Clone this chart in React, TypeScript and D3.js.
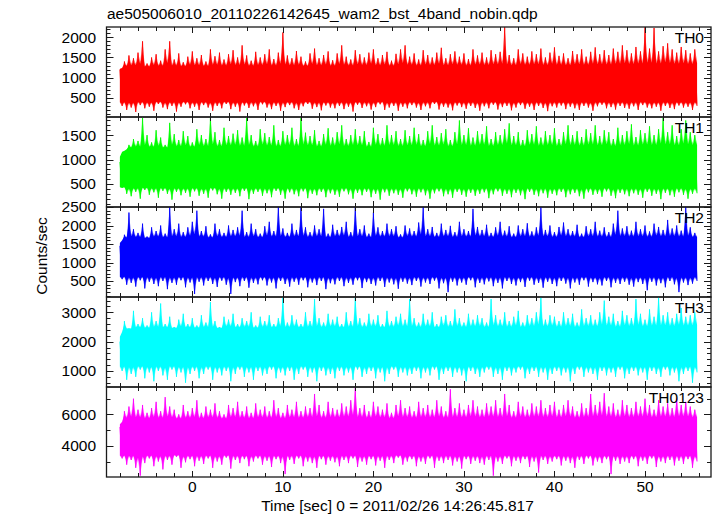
import React from 'react';
import * as d3 from 'd3';

const title = 'ae505006010_20110226142645_wam2_bst_4band_nobin.qdp';
const xLabel = 'Time [sec] 0 = 2011/02/26 14:26:45.817';
const yLabel = 'Counts/sec';
const bandNames = ['TH0', 'TH1', 'TH2', 'TH3', 'TH0123'];
const bandColors = ['#ff0000', '#00ff00', '#0000ff', '#00ffff', '#ff00ff'];
const xDomain = [-9.48, 57.29];
const xMajorTicks = [0, 10, 20, 30, 40, 50];
const xMinorStep = 2;
const sampleStart = -8;
const sampleStep = 0.5;

// upper / lower excursions of each light curve, one pair per 0.5 s
const th0Hi = [
  1200,1400,1550,1480,1620,1900,1350,1500,1580,1420,1700,1900,1450,1600,1380,1520,
  1650,1480,1560,1400,1700,1530,1620,1450,1580,1680,1500,1800,1550,1420,1640,1500,
  1580,1700,1460,1620,2120,1550,1480,1660,1520,1400,1600,1720,1480,1560,1650,1430,
  1600,1800,1520,1450,1680,1580,1500,1620,1700,1480,1560,1640,1420,1590,1700,1800,
  1520,1600,1450,1680,1560,1500,1620,1740,1480,1580,1650,1520,1600,1460,1700,1550,
  1620,1500,1680,1580,1640,2250,1560,1480,1700,1600,1520,1650,1580,1720,1500,1620,
  1750,1540,1600,1480,1660,1580,1700,1520,1640,1750,1580,1680,1560,1720,1640,1800,
  1680,1600,1760,1650,2250,1720,2230,1650,1780,1850,1700,1620,1760,1680,1600,1700,
];
const th0Lo = [
  300,200,260,150,320,240,280,180,350,260,220,300,160,280,340,240,
  280,200,320,260,180,300,240,350,220,280,160,310,250,290,200,340,
  260,220,300,180,270,320,240,200,290,350,230,270,190,310,260,240,
  300,220,280,160,330,250,290,210,270,340,200,260,300,180,280,240,
  320,260,200,290,240,350,210,280,260,190,310,270,230,300,250,180,
  290,240,330,210,270,300,190,260,320,230,280,200,300,250,170,290,
  260,310,220,280,240,200,300,260,180,290,330,240,270,210,300,250,
  230,290,200,320,260,240,280,180,300,250,220,310,260,280,200,300,
];
const th1Hi = [
  950,1150,1300,1420,1380,1850,1500,1350,1600,1450,1300,1750,1520,1400,1580,1480,
  1350,1620,1500,1420,1850,1560,1400,1650,1480,1530,1600,1450,1850,1500,1380,1620,
  1540,1460,1700,1400,1580,1500,1650,1420,1850,1550,1480,1600,1380,1520,1640,1450,
  1560,1700,1420,1500,1620,1480,1580,1360,1650,1520,1440,1700,1500,1580,1420,1600,
  1480,1650,1520,1400,1580,1700,1460,1540,1620,1400,1560,1800,1500,1640,1450,1580,
  1520,1680,1420,1560,1500,1620,1740,1480,1560,1400,1600,1520,1680,1450,1580,1500,
  1640,1420,1560,1700,1500,1580,1460,1620,1540,1700,1480,1600,1560,1420,1650,1500,
  1580,1720,1460,1600,1540,1680,1500,1620,1850,1560,1700,1480,1620,1800,1560,1500,
];
const th1Lo = [
  420,300,250,340,200,380,280,330,220,360,300,180,340,270,320,240,
  350,260,300,220,370,290,200,340,280,320,250,360,190,300,340,260,
  310,230,360,280,200,330,290,250,350,210,300,270,340,230,310,280,
  240,350,290,200,320,270,340,230,300,180,330,260,310,280,220,350,
  290,240,330,270,200,310,350,250,290,220,340,280,240,320,260,300,
  330,210,290,350,260,300,230,320,270,190,340,280,250,310,220,300,
  270,340,230,290,320,250,200,330,280,300,240,350,260,210,320,290,
  250,310,280,220,340,260,300,190,320,270,240,330,280,200,300,310,
];
const th2Hi = [
  1450,1750,2350,1900,1800,2050,1700,1950,1850,2000,1780,2500,1900,2050,1820,1950,
  2100,2400,1850,1980,1760,2050,1900,1800,2000,1880,1950,2400,1820,2050,1900,1780,
  1980,2100,1850,2500,1920,1800,2050,1880,2500,1950,1820,2000,1900,2450,1780,2020,
  1880,1960,2100,1820,2500,1900,2000,1780,2350,1950,1850,2050,1900,1980,1760,2000,
  1920,1850,2080,2500,1900,1960,1800,2050,1880,1990,1820,2100,1900,1850,2450,1960,
  1880,2020,1800,1950,2100,1860,1980,1780,2000,1900,2060,1840,1950,2500,1880,2000,
  1820,1960,2080,1900,1850,2020,1780,1980,1900,2100,1860,1950,1820,2050,2400,1920,
  1980,1860,2100,1900,2000,1840,2050,1960,1880,2150,1920,2000,1860,2500,1950,1800,
];
const th2Lo = [
  550,400,450,350,520,300,480,420,360,500,280,450,400,520,330,460,
  150,480,380,500,420,340,510,400,150,470,360,500,320,450,410,520,
  380,460,300,500,420,350,480,400,520,330,460,390,500,280,440,410,
  500,360,450,400,520,310,470,420,380,500,340,460,410,290,480,430,
  390,500,350,460,420,510,300,440,200,480,380,460,400,520,330,450,
  410,490,360,450,300,500,420,380,470,340,510,400,450,320,480,420,
  360,500,430,300,460,400,520,350,470,410,380,500,330,450,420,480,
  400,350,470,420,250,480,380,440,330,500,410,200,460,390,430,500,
];
const th3Hi = [
  2000,2700,2450,3050,2600,2800,2550,3000,2700,3300,2600,2850,2500,2750,2950,2600,
  2800,2550,2900,2650,3350,2700,2500,2850,2750,2950,2600,2800,2700,3000,2550,2850,
  2700,2900,2600,2800,3500,2650,2900,2750,2600,3000,2700,3450,2800,2650,2950,2750,
  2850,2600,3000,2700,3500,2800,2650,2950,2750,2900,2600,3050,2700,2850,2950,2750,
  3450,2800,2650,2950,2750,3000,2600,2850,2900,2700,3100,2800,2650,2950,2750,2900,
  2800,2650,3450,2900,2750,3000,2700,2850,3050,2650,2900,2800,3000,3500,2750,2900,
  2850,2700,3000,2800,2950,2650,3100,2800,2900,2750,3000,3400,2850,2950,2700,3050,
  2900,2800,3450,2950,2750,3100,2850,3500,2900,3000,2800,2950,3150,2850,2900,3000,
];
const th3Lo = [
  1000,700,900,800,1050,750,950,650,1000,850,700,1050,800,950,600,900,
  1000,750,900,1050,700,950,850,1000,650,900,1050,800,950,700,1000,850,
  900,1050,750,950,850,1000,700,900,1050,800,950,650,1000,850,900,750,
  1000,850,950,700,1050,800,900,1000,750,950,650,900,1050,800,950,850,
  900,1000,750,950,850,1050,700,900,1000,800,950,850,650,1000,900,800,
  950,1050,800,900,700,1000,850,950,1050,750,900,1000,800,950,700,900,
  1000,850,950,650,900,1050,800,950,900,700,1000,850,950,800,1050,750,
  900,1000,850,950,700,1000,900,800,1050,850,950,650,900,1000,600,950,
];
const th0123Hi = [
  5200,6200,6500,7000,6300,6600,6100,6400,6800,6200,7100,6500,6300,6000,6600,6200,
  6400,6900,6100,6500,6300,6700,6200,6000,6600,6400,6800,6200,6500,6100,6700,6300,
  6500,6200,6900,6400,6100,6600,6300,6800,6200,6500,6400,7300,6600,6200,6800,6400,
  6300,6700,6500,6900,7700,6400,6600,6200,6800,6500,6300,6700,6100,6600,6900,6400,
  6500,6200,6800,6400,6600,6300,6900,6500,6200,7600,6400,6700,6300,6600,6900,6500,
  6300,6700,6500,6900,6400,7300,6600,6200,6800,6500,6300,6700,6500,6900,6400,6600,
  6800,6300,6600,6900,6500,6200,6700,6400,7300,6600,6800,7350,6500,6700,6300,6900,
  6600,6400,6800,6500,7000,6600,6300,6900,6500,6700,6400,7000,6600,6800,6500,6300,
];
const th0123Lo = [
  3200,2800,3100,2600,2100,2900,3200,2700,3000,2500,3100,2800,3300,2600,2950,3150,
  2700,3050,2850,3200,2600,3000,2800,3250,2550,3100,2900,3150,2700,3000,3200,2800,
  3050,2650,3150,2900,2200,3100,2850,3200,2700,3000,2900,2600,3150,2800,3050,2950,
  2700,3100,2900,3200,2650,3000,2800,3150,2750,3050,2600,3100,2900,3250,2800,3000,
  3150,2700,3000,2850,3200,2600,3050,2900,3100,2750,3000,2550,3150,2850,3050,2900,
  2800,3100,2100,3000,2850,3200,2700,3050,2900,3150,2650,3000,2300,3100,2850,3000,
  3150,2750,3050,2900,2600,3100,2850,3200,2750,3000,2900,3150,2200,3050,2850,3000,
  2900,3150,2700,3050,2850,3200,2650,3000,2900,3100,2750,3050,2850,3150,2600,3000,
];

// dense central band of each curve
const coreLow = [420, 440, 640, 1200, 3450];
const coreHigh = [1250, 1230, 1650, 2450, 5650];

const yDomains = [[25, 2255], [30, 1870], [68, 2500], [454, 3522], [2015, 7744]];
const yMajorSteps = [500, 500, 500, 1000, 2000];
const yMinorSteps = [100, 100, 100, 200, 1000];

const hiSeries = [th0Hi, th1Hi, th2Hi, th3Hi, th0123Hi];
const loSeries = [th0Lo, th1Lo, th2Lo, th3Lo, th0123Lo];

const W = 717;
const H = 516;
const left = 106.5;
const right = 711;
const top = 27;
const panelH = 90;
const font = "'Liberation Sans', Arial, Helvetica, sans-serif";
const axisColor = '#1a1a1a';

function stepTicks(d0: number, d1: number, step: number) {
  const out: number[] = [];
  const start = Math.ceil((d0 - 1e-6) / step) * step;
  for (let v = start; v <= d1 + 1e-6; v += step) out.push(v);
  return out;
}

type Pt = { t: number; a: number; b: number };

export default function App() {
  const x = d3.scaleLinear().domain(xDomain).range([left, right]);
  const xMinor = stepTicks(-8, 56, xMinorStep);

  const panels = bandNames.map((name, i) => {
    const y0 = top + i * panelH;
    const y1 = y0 + panelH;
    const y = d3.scaleLinear().domain(yDomains[i]).range([y1, y0]);
    const hi = hiSeries[i];
    const lo = loSeries[i];
    const cH = coreHigh[i];
    const cL = coreLow[i];
    const n = hi.length;
    const half = sampleStep / 2;

    // outer (fringe) and inner (solid) envelopes built from the sample extremes
    const build = (frac: number): Pt[] => {
      const pts: Pt[] = [];
      for (let k = 0; k < n; k++) {
        const t = sampleStart + k * sampleStep;
        const hk = hi[k];
        const hn = k + 1 < n ? hi[k + 1] : hi[k];
        const lp = k > 0 ? lo[k - 1] : lo[k];
        const lk = lo[k];
        const upTip = cH + frac * (hk - cH);
        const upValley = cH + frac * 0.4 * (Math.min(hk, hn) - cH);
        const loValley = cL - frac * 0.4 * (cL - Math.max(lp, lk));
        const loTip = cL - frac * (cL - lk);
        if (k === 0) pts.push({ t, a: cL, b: cH });
        pts.push({ t, a: loValley, b: upTip });
        pts.push({ t: t + half, a: loTip, b: upValley });
      }
      return pts;
    };
    const area = d3
      .area<Pt>()
      .x((d) => x(d.t))
      .y0((d) => y(d.a))
      .y1((d) => y(d.b));
    const outer = area(build(1)) || '';
    const inner = area(build(0.62)) || '';

    const zig: [number, number][] = [];
    hi.forEach((hv, k) => {
      const t = sampleStart + k * sampleStep;
      zig.push([t, hv]);
      zig.push([t + half, lo[k]]);
    });
    const line = d3
      .line<[number, number]>()
      .x((d) => x(d[0]))
      .y((d) => y(d[1]));

    const majors = stepTicks(yDomains[i][0], yDomains[i][1], yMajorSteps[i]);
    const minors = stepTicks(yDomains[i][0], yDomains[i][1], yMinorSteps[i]).filter(
      (v) => Math.abs(v / yMajorSteps[i] - Math.round(v / yMajorSteps[i])) > 1e-6
    );
    return { name, i, y0, y1, y, outer, inner, zig: line(zig) || '', majors, minors };
  });

  return (
    <div style={{ position: 'absolute', left: 0, top: 0 }}>
      <svg width={W} height={H} viewBox={`0 0 ${W} ${H}`} style={{ display: 'block', background: '#fff' }}>
        <defs>
          {panels.map((p) => (
            <clipPath id={`clip${p.i}`} key={p.i}>
              <rect x={left} y={p.y0} width={right - left} height={panelH} />
            </clipPath>
          ))}
        </defs>
        <text x={107} y={19} fontFamily={font} fontSize={15.5} fill="#000">
          {title}
        </text>
        {panels.map((p) => (
          <g key={p.name}>
            <g clipPath={`url(#clip${p.i})`}>
              <path d={p.outer} fill={bandColors[p.i]} fillOpacity={0.55} />
              <path d={p.inner} fill={bandColors[p.i]} />
              <path d={p.zig} fill="none" stroke={bandColors[p.i]} strokeWidth={1} strokeOpacity={0.85} />
            </g>
            {xMinor.map((t) => {
              const major = t % 10 === 0;
              const len = major ? 6 : 4;
              const xx = Math.round(x(t)) + 0.5;
              return (
                <g key={`xt${t}`} stroke={axisColor} strokeWidth={1}>
                  <line x1={xx} x2={xx} y1={p.y0} y2={p.y0 + len} />
                  <line x1={xx} x2={xx} y1={p.y1} y2={p.y1 - len} />
                </g>
              );
            })}
            {p.majors.map((v) => {
              const yy = Math.round(p.y(v)) + 0.5;
              return (
                <g key={`ym${v}`} stroke={axisColor} strokeWidth={1}>
                  <line x1={left} x2={left + 7} y1={yy} y2={yy} />
                  <line x1={right} x2={right - 7} y1={yy} y2={yy} />
                </g>
              );
            })}
            {p.minors.map((v) => {
              const yy = Math.round(p.y(v)) + 0.5;
              return (
                <g key={`yn${v}`} stroke={axisColor} strokeWidth={1}>
                  <line x1={left} x2={left + 4} y1={yy} y2={yy} />
                  <line x1={right} x2={right - 4} y1={yy} y2={yy} />
                </g>
              );
            })}
            {p.majors.map((v) => (
              <text
                key={`yl${v}`}
                x={96}
                y={p.y(v)}
                dy="0.35em"
                textAnchor="end"
                fontFamily={font}
                fontSize={15.5}
                fill="#000"
              >
                {v}
              </text>
            ))}
            <rect
              x={left}
              y={p.y0}
              width={right - left}
              height={panelH}
              fill="none"
              stroke={axisColor}
              strokeWidth={1.3}
            />
            <text x={704} y={p.y0 + 15.5} textAnchor="end" fontFamily={font} fontSize={15.5} fill="#000">
              {p.name}
            </text>
          </g>
        ))}
        {xMajorTicks.map((t) => (
          <text key={`xl${t}`} x={x(t)} y={492} textAnchor="middle" fontFamily={font} fontSize={15.5} fill="#000">
            {t}
          </text>
        ))}
        <text x={397.5} y={511} textAnchor="middle" fontFamily={font} fontSize={15.5} fill="#000">
          {xLabel}
        </text>
        <text
          transform="translate(47,256) rotate(-90)"
          textAnchor="middle"
          fontFamily={font}
          fontSize={15.5}
          fill="#000"
        >
          {yLabel}
        </text>
      </svg>
    </div>
  );
}
